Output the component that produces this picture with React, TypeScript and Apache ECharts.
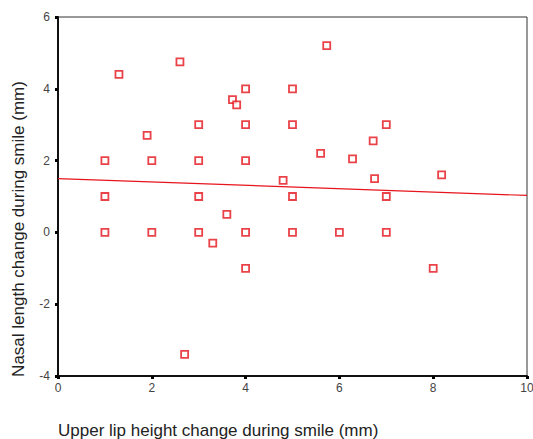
import React, { useEffect, useRef } from "react";
import * as echarts from "echarts";

const xValues = [1, 1, 1, 1.3, 1.9, 2, 2, 2.6, 2.7, 3, 3, 3, 3, 3.3, 3.6, 3.72, 3.81, 4, 4, 4, 4, 4, 4.8, 5, 5, 5, 5, 5.6, 5.73, 6, 6.28, 6.72, 6.75, 7, 7, 7, 8, 8.18];
const yValues = [2, 1, 0, 4.4, 2.7, 2, 0, 4.75, -3.4, 3, 2, 1, 0, -0.3, 0.5, 3.7, 3.55, 4, 3, 2, 0, -1, 1.45, 4, 3, 1, 0, 2.2, 5.2, 0, 2.05, 2.55, 1.5, 3, 1, 0, -1, 1.6];
const fitX = [0, 10];
const fitY = [1.5, 1.03];
const xTicks = [0, 2, 4, 6, 8, 10];
const yTicks = [-4, -2, 0, 2, 4, 6];
const xTitle = "Upper lip height change during smile (mm)";
const yTitle = "Nasal length change during smile (mm)";

export default function App() {
  const ref = useRef<HTMLDivElement>(null);
  useEffect(() => {
    if (!ref.current) return;
    const chart = echarts.init(ref.current, null, { renderer: "svg" });
    const font = "Arial, 'Liberation Sans', sans-serif";
    chart.setOption({
      animation: false,
      backgroundColor: "#ffffff",
      grid: {
        left: 58,
        top: 17,
        right: 6,
        bottom: 63,
        outerBoundsMode: "none",
        containLabel: false,
        show: true,
        borderColor: "#333",
        borderWidth: 1,
        backgroundColor: "transparent",
      },
      xAxis: {
        type: "value",
        min: xTicks[0],
        max: xTicks[xTicks.length - 1],
        interval: 2,
        splitLine: { show: false },
        axisLine: { show: true, onZero: false, lineStyle: { color: "#111", width: 2 } },
        axisTick: { show: true, length: 3, lineStyle: { color: "#000", width: 3 } },
        axisLabel: { color: "#444", fontSize: 12, fontFamily: font, margin: 6 },
      },
      yAxis: {
        type: "value",
        min: yTicks[0],
        max: yTicks[yTicks.length - 1],
        interval: 2,
        splitLine: { show: false },
        axisLine: { show: true, onZero: false, lineStyle: { color: "#111", width: 2 } },
        axisTick: { show: true, length: 3, lineStyle: { color: "#000", width: 3 } },
        axisLabel: { color: "#444", fontSize: 12, fontFamily: font, margin: 8 },
      },
      graphic: [
        {
          type: "text",
          x: 58,
          y: 430,
          style: { text: xTitle, fill: "#222", font: `17px ${font}`, verticalAlign: "middle" },
        },
        {
          type: "text",
          x: 18,
          y: 229,
          rotation: Math.PI / 2,
          style: {
            text: yTitle,
            fill: "#222",
            font: `17px ${font}`,
            align: "center",
            verticalAlign: "middle",
          },
        },
      ],
      series: [
        {
          type: "line",
          data: fitX.map((x, i) => [x, fitY[i]]),
          showSymbol: false,
          lineStyle: { color: "#e8141c", width: 1.2 },
          z: 1,
        },
        {
          type: "scatter",
          data: xValues.map((x, i) => [x, yValues[i]]),
          symbol: "rect",
          symbolSize: 7,
          itemStyle: { color: "#ffffff", borderColor: "#e4141c", borderWidth: 1.8 },
          z: 2,
        },
      ],
    });
    return () => chart.dispose();
  }, []);
  return (
    <div
      ref={ref}
      style={{ position: "fixed", left: 0, top: 0, width: 533, height: 439 }}
    />
  );
}
